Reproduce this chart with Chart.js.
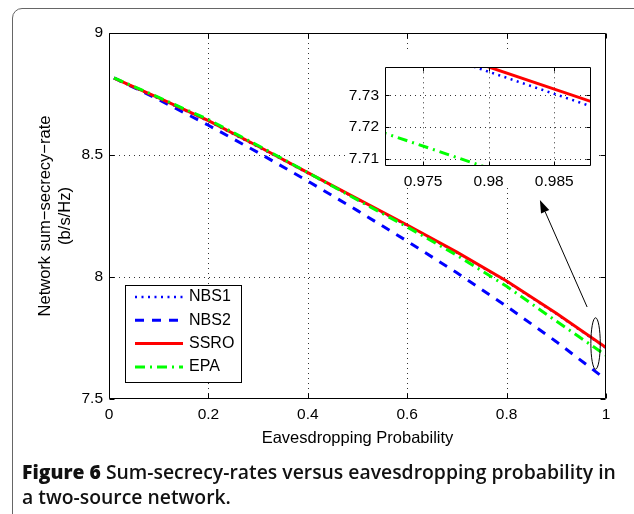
<!DOCTYPE html>
<html>
<head>
<meta charset="utf-8">
<script src="https://cdn.jsdelivr.net/npm/chart.js@4.4.0/dist/chart.umd.min.js"></script>
<style>
  html, body { margin: 0; padding: 0; background: #fff; overflow: hidden; }
  #page { position: relative; width: 634px; height: 514px; overflow: hidden; }
  #frame { position: absolute; left: 12px; top: 8px; width: 700px; height: 600px;
           border: 1px solid #666; border-radius: 10px; }
  #main { position: absolute; left: 0; top: 0; }
  #zoom { position: absolute; left: 345px; top: 52px; background: #fff; }
  #caption { position: absolute; left: 22px; top: 459px; font-family: "Open Sans", Lato, sans-serif;
             font-size: 17px; line-height: 25px; color: #111; font-weight: 600; white-space: nowrap; }
  #caption b { font-weight: 800; }
</style>
</head>
<body>
<div id="page">
  <div id="frame"></div>
  <canvas id="main" width="634" height="460"></canvas>
  <canvas id="zoom" width="250" height="134"></canvas>
  <div id="caption"><span id="capLine"><b>Figure 6</b> Sum-secrecy-rates versus eavesdropping probability in</span><br>a two-source network.</div>
</div>
<script>
// eavesdropping probability and sum-secrecy-rate (b/s/Hz) per scheme
const probX    = [0.01, 0.1, 0.2, 0.3, 0.4, 0.5, 0.6, 0.7, 0.8, 0.9, 1.0];
const nbs1Rate = [8.814, 8.732, 8.639, 8.534, 8.426, 8.318, 8.211, 8.100, 7.982, 7.8495, 7.7095];
const nbs2Rate = [8.816, 8.727, 8.622, 8.510, 8.393, 8.272, 8.147, 8.017, 7.880, 7.735, 7.580];
const ssroRate = [8.815, 8.734, 8.641, 8.536, 8.428, 8.320, 8.213, 8.102, 7.984, 7.851, 7.711];
const epaRate  = [8.816, 8.736, 8.645, 8.539, 8.428, 8.316, 8.205, 8.089, 7.962, 7.819, 7.679];

const seriesNames = ['NBS1', 'NBS2', 'SSRO', 'EPA'];
const rates = [nbs1Rate, nbs2Rate, ssroRate, epaRate];

const xTickVals = [0, 0.2, 0.4, 0.6, 0.8, 1];
const yTickVals = [7.5, 8, 8.5, 9];
const zoomXTicks = [0.975, 0.98, 0.985];
const zoomYTicks = [7.71, 7.72, 7.73];

const lineStyles = [
  { color: '#0000ff', dash: [2, 4.5], width: 2.5 },
  { color: '#0000ff', dash: [9, 8], width: 3 },
  { color: '#ff0000', dash: [], width: 3 },
  { color: '#00ff00', dash: [10, 5, 2, 5], width: 3 }
];

const fontFamily = '"Liberation Sans", Arial, sans-serif';
const tickFont = { family: fontFamily, size: 15.5 };
const titleFont = { family: fontFamily, size: 16.5 };
const legendFontSize = 16;

function makeDatasets(clip) {
  return seriesNames.map((name, i) => ({
    label: name,
    data: probX.map((p, k) => ({ x: p, y: rates[i][k] })),
    borderColor: lineStyles[i].color,
    borderDash: lineStyles[i].dash,
    borderWidth: lineStyles[i].width,
    pointRadius: 0,
    fill: false,
    tension: 0,
    order: seriesNames.length - i,
    clip: clip
  }));
}

// dotted grid under the curves, then a box with inward ticks on all four sides
const axesBox = {
  id: 'axesBox',
  beforeDatasetsDraw(chart) {
    const { ctx, chartArea: a } = chart;
    const xs = chart.scales.x, ys = chart.scales.y;
    ctx.save();
    ctx.strokeStyle = '#333';
    ctx.lineWidth = 1;
    ctx.setLineDash([1, 4]);
    ctx.beginPath();
    xs.ticks.forEach(t => {
      const p = Math.round(xs.getPixelForValue(t.value)) + 0.5;
      if (p > a.left + 2 && p < a.right - 2) { ctx.moveTo(p, a.top); ctx.lineTo(p, a.bottom); }
    });
    ys.ticks.forEach(t => {
      const p = Math.round(ys.getPixelForValue(t.value)) + 0.5;
      if (p > a.top + 2 && p < a.bottom - 2) { ctx.moveTo(a.left, p); ctx.lineTo(a.right, p); }
    });
    ctx.stroke();
    ctx.restore();
  },
  afterDatasetsDraw(chart, args, opts) {
    const { ctx, chartArea: a } = chart;
    const xs = chart.scales.x, ys = chart.scales.y;
    const len = opts.tickLen;
    const l = Math.round(a.left) + 0.5, r = Math.round(a.right) - 0.5;
    const t = Math.round(a.top) + 0.5, b = Math.round(a.bottom) - 0.5;
    ctx.save();
    ctx.strokeStyle = '#000';
    ctx.lineWidth = 1;
    ctx.beginPath();
    ctx.rect(l, t, r - l, b - t);
    xs.ticks.forEach(k => {
      const p = Math.round(xs.getPixelForValue(k.value)) + 0.5;
      ctx.moveTo(p, b); ctx.lineTo(p, b - len);
      ctx.moveTo(p, t); ctx.lineTo(p, t + len);
    });
    ys.ticks.forEach(k => {
      const p = Math.round(ys.getPixelForValue(k.value)) + 0.5;
      ctx.moveTo(l, p); ctx.lineTo(l + len, p);
      ctx.moveTo(r, p); ctx.lineTo(r - len, p);
    });
    ctx.stroke();
    ctx.restore();
  }
};

// legend box inside the plot, line samples taken from the datasets
const boxLegend = {
  id: 'boxLegend',
  afterDatasetsDraw(chart, args, o) {
    const { ctx, chartArea: a } = chart;
    const left = Math.round(a.left + o.dx), top = Math.round(a.top + o.dy);
    ctx.save();
    ctx.fillStyle = '#fff';
    ctx.fillRect(left, top, o.w, o.h);
    ctx.strokeStyle = '#000';
    ctx.lineWidth = 1;
    ctx.strokeRect(left + 0.5, top + 0.5, o.w, o.h);
    chart.data.datasets.forEach((ds, i) => {
      const yy = top + o.first + i * o.step;
      ctx.strokeStyle = ds.borderColor;
      ctx.lineWidth = ds.borderWidth;
      ctx.setLineDash(ds.borderDash);
      ctx.beginPath();
      ctx.moveTo(left + o.lineFrom, yy);
      ctx.lineTo(left + o.lineTo, yy);
      ctx.stroke();
      ctx.setLineDash([]);
      ctx.fillStyle = '#000';
      ctx.font = legendFontSize + 'px ' + fontFamily;
      ctx.textBaseline = 'middle';
      ctx.fillText(ds.label, left + o.textX, yy);
    });
    ctx.restore();
  }
};

// ellipse around the curve ends and the arrow pointing up to the zoomed view
const zoomMarker = {
  id: 'zoomMarker',
  afterDatasetsDraw(chart, args, o) {
    const { ctx } = chart;
    const xs = chart.scales.x, ys = chart.scales.y;
    const cx = xs.getPixelForValue(o.ellipse.x), cy = ys.getPixelForValue(o.ellipse.y);
    const x0 = xs.getPixelForValue(o.tail.x), y0 = ys.getPixelForValue(o.tail.y);
    const x1 = xs.getPixelForValue(o.tip.x), y1 = ys.getPixelForValue(o.tip.y);
    ctx.save();
    ctx.strokeStyle = '#000';
    ctx.fillStyle = '#000';
    ctx.lineWidth = 1;
    ctx.beginPath();
    ctx.ellipse(cx, cy, o.ellipse.rx, o.ellipse.ry, 0, 0, Math.PI * 2);
    ctx.stroke();
    const ang = Math.atan2(y1 - y0, x1 - x0);
    const hl = 13, hw = 4.5;
    const bx = x1 - hl * Math.cos(ang), by = y1 - hl * Math.sin(ang);
    ctx.beginPath();
    ctx.moveTo(x0, y0);
    ctx.lineTo(bx, by);
    ctx.stroke();
    ctx.beginPath();
    ctx.moveTo(x1, y1);
    ctx.lineTo(bx + hw * Math.sin(ang), by - hw * Math.cos(ang));
    ctx.lineTo(bx - hw * Math.sin(ang), by + hw * Math.cos(ang));
    ctx.closePath();
    ctx.fill();
    ctx.restore();
  }
};

function axisOptions(min, max, tickVals, extra) {
  return Object.assign({
    type: 'linear',
    min: min,
    max: max,
    grid: { display: false, drawTicks: false },
    border: { display: false },
    afterBuildTicks: s => { s.ticks = tickVals.map(v => ({ value: v })); },
    ticks: {
      autoSkip: false,
      maxRotation: 0,
      color: '#000',
      font: tickFont,
      padding: 6,
      callback: v => String(v)
    }
  }, extra || {});
}

Chart.defaults.animation = false;
Chart.defaults.responsive = false;

new Chart(document.getElementById('main'), {
  type: 'line',
  data: { datasets: makeDatasets(undefined) },
  plugins: [axesBox, boxLegend, zoomMarker],
  options: {
    layout: { padding: { top: 33, right: 28, left: 0, bottom: 0 } },
    plugins: {
      legend: { display: false },
      tooltip: { enabled: false },
      axesBox: { tickLen: 5 },
      boxLegend: { dx: 16, dy: 252, w: 116, h: 97, first: 12, step: 23.3, lineFrom: 10, lineTo: 58, textX: 64 },
      zoomMarker: {
        ellipse: { x: 0.979, y: 7.7275, rx: 4.7, ry: 25.7 },
        tail: { x: 0.962, y: 7.877 },
        tip: { x: 0.867, y: 8.316 }
      }
    },
    scales: {
      x: axisOptions(0, 1, xTickVals, {
        afterFit: s => { s.height = 61; },
        title: { display: true, text: 'Eavesdropping Probability', color: '#000', font: titleFont, padding: { top: 0, bottom: 11.5 } }
      }),
      y: axisOptions(7.5, 9, yTickVals, {
        afterFit: s => { s.width = 109; },
        title: { display: true, text: ['Network sum\u2212secrecy\u2212rate', '(b/s/Hz)'], color: '#000', font: titleFont, padding: { top: 35.4, bottom: 0 } }
      })
    }
  }
});

new Chart(document.getElementById('zoom'), {
  type: 'line',
  data: { datasets: makeDatasets(0) },
  plugins: [axesBox],
  options: {
    layout: { padding: { top: 2, right: 4, left: 0, bottom: 0 } },
    plugins: {
      legend: { display: false },
      tooltip: { enabled: false },
      axesBox: { tickLen: 4 }
    },
    scales: {
      x: axisOptions(0.9721, 0.9878, zoomXTicks, { afterFit: s => { s.height = 20; } }),
      y: axisOptions(7.7077, 7.7389, zoomYTicks, { afterFit: s => { s.width = 40; } })
    }
  }
});

// caption's first line runs across the frame, to x = 616
const cap = document.getElementById('caption');
const capLine = document.getElementById('capLine');
cap.style.fontSize = (17 * 594 / capLine.getBoundingClientRect().width) + 'px';
</script>
</body>
</html>
